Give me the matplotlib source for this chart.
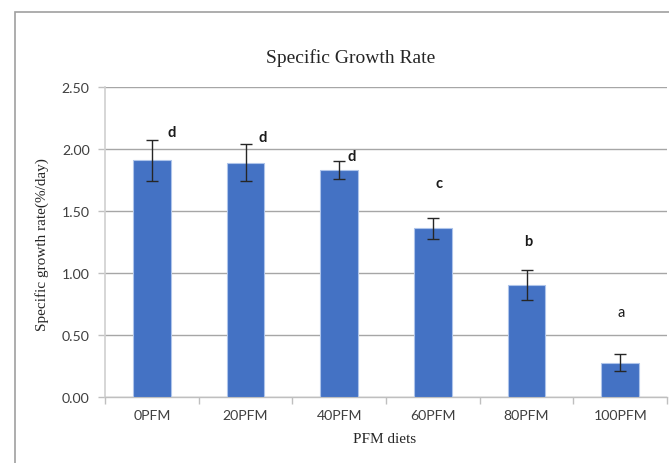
import matplotlib
import numpy as np

matplotlib.use("Agg")

import matplotlib.pyplot as plt  # noqa: E402
from matplotlib.patches import Rectangle  # noqa: E402


DIETS = ["0PFM", "20PFM", "40PFM", "60PFM", "80PFM", "100PFM"]
SGR_MEAN = [1.91, 1.89, 1.83, 1.36, 0.90, 0.275]
SGR_SD = [0.165, 0.148, 0.072, 0.083, 0.121, 0.071]
GROUP_LETTERS = ["d", "d", "d", "c", "b", "a"]
LETTER_Y = [2.14, 2.10, 1.945, 1.725, 1.255, 0.685]
LETTER_DX = [0.21, 0.18, 0.13, 0.07, 0.02, 0.01]

BAR_COLOR = "#4472C4"
GRID_COLOR = "#a6a6a6"
TICK_FONT = "Lato"
SERIF_FONT = "Liberation Serif"


def main() -> None:
    fig = plt.figure(figsize=(6.69, 4.64), dpi=100)
    # chart-area frame, open to the right and bottom
    left, top = 15 / 669, 1 - 13 / 464
    fig.patches.append(
        Rectangle((left, -0.2), 1.2, top + 0.2, transform=fig.transFigure,
                  fill=False, edgecolor="#a0a0a0", linewidth=1.2)
    )

    ax = fig.add_axes([0.157, 0.1429, 0.840, 0.6668])
    x = np.arange(len(DIETS))

    ax.bar(x, SGR_MEAN, width=0.4, color=BAR_COLOR, edgecolor="#aec4ea",
           linewidth=0.8, zorder=3)
    ax.errorbar(x, SGR_MEAN, yerr=SGR_SD, fmt="none", ecolor="#262626",
                elinewidth=1.0, capsize=4, capthick=1.0, zorder=4)

    for i, letter in enumerate(GROUP_LETTERS):
        ax.text(x[i] + LETTER_DX[i], LETTER_Y[i], letter, ha="center", va="center",
                fontsize=10.5, family=TICK_FONT,
                fontweight="normal" if letter == "a" else "bold", color="#1a1a1a")

    ax.set_xlim(-0.5, len(DIETS) - 0.5)
    ax.set_ylim(0, 2.5)
    ax.set_yticks(np.arange(0, 2.51, 0.5))
    ax.set_yticklabels([f"{v:.2f}" for v in np.arange(0, 2.51, 0.5)])
    ax.set_xticks(x)
    ax.set_xticklabels(DIETS)
    ax.set_xticks(np.arange(-0.5, len(DIETS), 1.0), minor=True)

    ax.tick_params(axis="x", which="major", length=0, pad=9)
    ax.tick_params(axis="x", which="minor", length=5, color="#bfbfbf", width=1.0)
    ax.tick_params(axis="y", length=5, color="#bfbfbf", width=1.0, pad=6)
    for label in ax.get_xticklabels() + ax.get_yticklabels():
        label.set_fontfamily(TICK_FONT)
        label.set_fontsize(10.2)
        label.set_color("#404040")

    ax.yaxis.grid(True, color=GRID_COLOR, linewidth=1.0, zorder=0)
    ax.set_axisbelow(True)
    for side in ["top", "right"]:
        ax.spines[side].set_visible(False)
    ax.spines["left"].set_color("#d0d0d0")
    ax.spines["left"].set_linewidth(1.2)
    ax.spines["bottom"].set_color("#bfbfbf")
    ax.spines["bottom"].set_linewidth(1.0)

    fig.text(351 / 669, 1 - 58 / 464, "Specific Growth Rate", ha="center", va="center",
             family=SERIF_FONT, fontsize=14, color="#262626")
    fig.text(42 / 669, 1 - 245 / 464, "Specific growth rate(%/day)", ha="center",
             va="center", rotation=90, family=SERIF_FONT, fontsize=11, color="#262626")
    fig.text(385 / 669, 1 - 440 / 464, "PFM diets", ha="center", va="center",
             family=SERIF_FONT, fontsize=11, color="#262626")

    fig.savefig("out.png", dpi=100)
    plt.close(fig)


if __name__ == "__main__":
    main()
